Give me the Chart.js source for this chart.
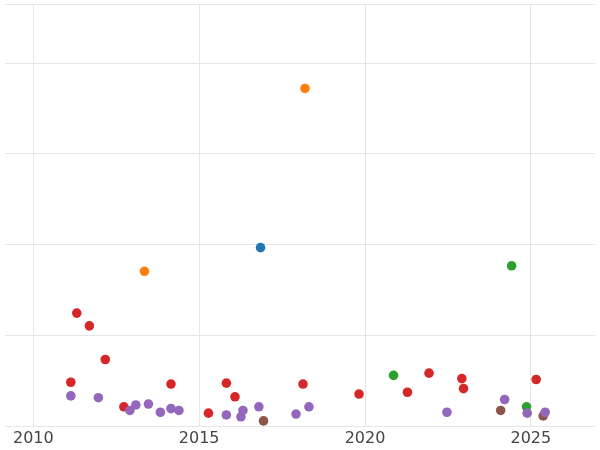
<!DOCTYPE html>
<html>
<head>
<meta charset="utf-8">
<script src="https://cdn.jsdelivr.net/npm/chart.js@4/dist/chart.umd.min.js"></script>
<style>
  html, body { margin: 0; padding: 0; background: #fff; }
  #wrap { width: 600px; height: 450px; }
</style>
</head>
<body>
<div id="wrap"><canvas id="chart"></canvas></div>
<script>
// Data (x = year, y = value in arbitrary units)
const redX = [2011.31, 2011.69, 2012.17, 2011.13, 2012.73, 2014.15, 2015.28, 2015.82, 2016.08, 2018.13, 2019.82, 2021.28, 2021.93, 2022.92, 2022.97, 2025.16];
const redY = [12.5, 11.1, 7.4, 4.9, 2.2, 4.7, 1.5, 4.8, 3.3, 4.7, 3.6, 3.8, 5.9, 5.3, 4.2, 5.2];
const purpleX = [2011.13, 2011.96, 2012.91, 2013.09, 2013.47, 2013.83, 2014.15, 2014.39, 2015.82, 2016.26, 2016.32, 2016.80, 2017.92, 2018.31, 2022.47, 2024.21, 2024.89, 2025.43];
const purpleY = [3.4, 3.2, 1.8, 2.4, 2.5, 1.6, 2.0, 1.8, 1.3, 1.1, 1.8, 2.2, 1.4, 2.2, 1.6, 3.0, 1.5, 1.6];
const orangeX = [2018.19, 2013.35];
const orangeY = [37.2, 17.1];
const blueX = [2016.85];
const blueY = [19.7];
const greenX = [2024.42, 2020.86, 2024.87];
const greenY = [17.7, 5.65, 2.2];
const brownX = [2016.94, 2024.09, 2025.37];
const brownY = [0.65, 1.8, 1.2];
const xTicks = [2010, 2015, 2020, 2025];

const toPoints = (xs, ys) => xs.map((x, i) => ({ x: x, y: ys[i] }));

function series(xs, ys, color) {
    return {
        data: toPoints(xs, ys),
        backgroundColor: color,
        borderWidth: 0,
        pointRadius: 4.8
    };
}

new Chart(document.getElementById('chart'), {
    type: 'scatter',
    data: {
        datasets: [
            series(purpleX, purpleY, '#9467bd'),
            series(brownX, brownY, '#8c564b'),
            series(redX, redY, '#d62728'),
            series(greenX, greenY, '#2ca02c'),
            series(orangeX, orangeY, '#ff7f0e'),
            series(blueX, blueY, '#1f77b4')
        ]
    },
    options: {
        responsive: true,
        maintainAspectRatio: false,
        animation: false,
        layout: { padding: { left: -5, right: -5, top: -4, bottom: 0 } },
        plugins: { legend: { display: false }, tooltip: { enabled: false } },
        scales: {
            x: {
                type: 'linear',
                min: 2009.14,
                max: 2026.94,
                afterBuildTicks: (axis) => { axis.ticks = xTicks.map(v => ({ value: v })); },
                ticks: { callback: (v) => String(v), color: '#444', font: { size: 16, family: 'DejaVu Sans' }, padding: 2 },
                grid: { color: '#e6e6e6', drawTicks: false },
                border: { display: false }
            },
            y: {
                min: 0,
                max: 46.4,
                ticks: { display: false, stepSize: 10 },
                grid: { color: '#e6e6e6', drawTicks: false },
                border: { display: false }
            }
        }
    }
});
</script>
</body>
</html>
